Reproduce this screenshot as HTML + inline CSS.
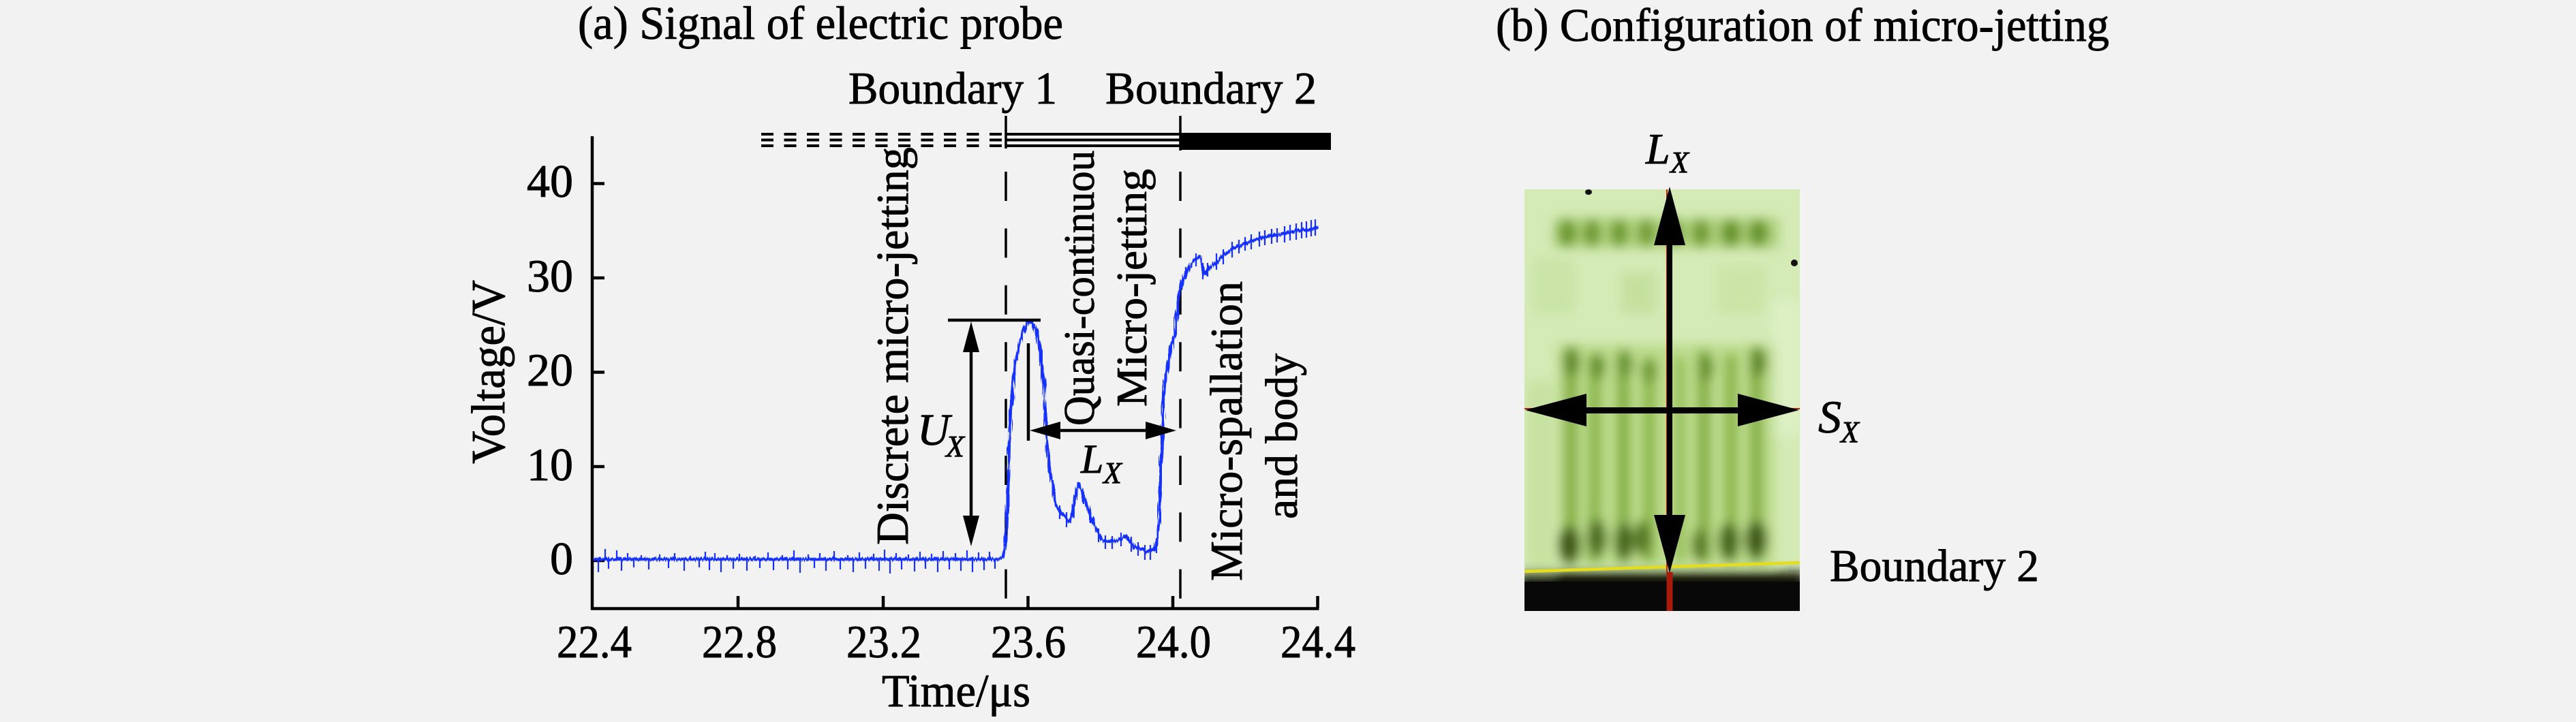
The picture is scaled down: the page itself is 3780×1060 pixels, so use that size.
<!DOCTYPE html>
<html>
<head>
<meta charset="utf-8">
<style>
html,body{margin:0;padding:0;background:#f2f2f2;}
svg{display:block;}
svg text{font-family:"Liberation Serif","DejaVu Serif",serif;}
</style>
</head>
<body>
<svg width="3780" height="1060" viewBox="0 0 3780 1060" xmlns="http://www.w3.org/2000/svg">
<defs>
  <filter id="bl" x="-20%" y="-20%" width="140%" height="140%"><feGaussianBlur stdDeviation="8"/></filter>
  <filter id="jit" filterUnits="userSpaceOnUse" x="850" y="300" width="1110" height="580">
    <feTurbulence type="fractalNoise" baseFrequency="0.55 0.04" numOctaves="1" seed="5" result="n"/>
    <feDisplacementMap in="SourceGraphic" in2="n" scale="9" xChannelSelector="R" yChannelSelector="G"/>
  </filter>
  <clipPath id="imgclip"><rect x="2237" y="278" width="404" height="619"/></clipPath>
</defs>
<rect width="3780" height="1060" fill="#f2f2f2"/>

<g font-family="'Liberation Serif', 'DejaVu Serif', serif" fill="#000" stroke="#000" stroke-width="0.9">
  <!-- Titles -->
  <text x="848" y="57" font-size="69" textLength="712" lengthAdjust="spacingAndGlyphs">(a) Signal of electric probe</text>
  <text x="2195" y="60" font-size="69" textLength="900" lengthAdjust="spacingAndGlyphs">(b) Configuration of micro-jetting</text>

  <!-- Boundary labels -->
  <text x="1245" y="152" font-size="67" textLength="306" lengthAdjust="spacingAndGlyphs">Boundary 1</text>
  <text x="1622" y="152" font-size="67" textLength="310" lengthAdjust="spacingAndGlyphs">Boundary 2</text>

  <!-- Y tick labels -->
  <g font-size="68" text-anchor="end">
    <text x="841" y="843">0</text>
    <text x="841" y="705">10</text>
    <text x="841" y="566">20</text>
    <text x="841" y="428">30</text>
    <text x="841" y="289">40</text>
  </g>
  <!-- X tick labels -->
  <g font-size="68" text-anchor="middle">
    <text x="872" y="965" textLength="110" lengthAdjust="spacingAndGlyphs">22.4</text>
    <text x="1085" y="965" textLength="110" lengthAdjust="spacingAndGlyphs">22.8</text>
    <text x="1297" y="965" textLength="110" lengthAdjust="spacingAndGlyphs">23.2</text>
    <text x="1509" y="965" textLength="110" lengthAdjust="spacingAndGlyphs">23.6</text>
    <text x="1722" y="965" textLength="110" lengthAdjust="spacingAndGlyphs">24.0</text>
    <text x="1934" y="965" textLength="110" lengthAdjust="spacingAndGlyphs">24.4</text>
  </g>
  <!-- Axis titles -->
  <text x="1403" y="1037" font-size="68" text-anchor="middle" textLength="218" lengthAdjust="spacingAndGlyphs">Time/μs</text>
  <text transform="translate(740,546) rotate(-90)" x="0" y="0" font-size="70" text-anchor="middle" textLength="270" lengthAdjust="spacingAndGlyphs">Voltage/V</text>

  <!-- Rotated annotation texts -->
  <text transform="translate(1332,800) rotate(-90)" font-size="67" textLength="584" lengthAdjust="spacingAndGlyphs">Discrete micro-jetting</text>
  <text transform="translate(1605,625) rotate(-90)" font-size="64" textLength="404" lengthAdjust="spacingAndGlyphs">Quasi-continuou</text>
  <text transform="translate(1682,597) rotate(-90)" font-size="64" textLength="349" lengthAdjust="spacingAndGlyphs">Micro-jetting</text>
  <text transform="translate(1822,853) rotate(-90)" font-size="67" textLength="440" lengthAdjust="spacingAndGlyphs">Micro-spallation</text>
  <text transform="translate(1903,762) rotate(-90)" font-size="67" textLength="243" lengthAdjust="spacingAndGlyphs">and body</text>

  <!-- U_X and L_X labels (a) -->
  <text x="1346" y="653" font-size="66" font-style="italic">U</text>
  <text x="1388" y="670" font-size="44" font-style="italic">X</text>
  <text x="1586" y="694" font-size="60" font-style="italic">L</text>
  <text x="1619" y="709" font-size="44" font-style="italic">X</text>

  <!-- Panel b labels -->
  <text x="2415" y="240" font-size="64" font-style="italic">L</text>
  <text x="2451" y="253" font-size="44" font-style="italic">X</text>
  <text x="2668" y="635" font-size="68" font-style="italic">S</text>
  <text x="2701" y="649" font-size="44" font-style="italic">X</text>
  <text x="2685" y="853" font-size="67" textLength="307" lengthAdjust="spacingAndGlyphs">Boundary 2</text>
</g>

<!-- Region bars -->
<g stroke="#000" stroke-width="4" fill="none">
  <line x1="1117" y1="197" x2="1471" y2="197" stroke-dasharray="18 15.5"/>
  <line x1="1117" y1="205.5" x2="1471" y2="205.5" stroke-dasharray="18 15.5"/>
  <line x1="1117" y1="214" x2="1471" y2="214" stroke-dasharray="18 15.5"/>
  <line x1="1476" y1="197" x2="1732" y2="197"/>
  <line x1="1476" y1="205.5" x2="1732" y2="205.5"/>
  <line x1="1476" y1="214" x2="1732" y2="214"/>
</g>
<rect x="1732" y="195" width="221" height="25" fill="#000"/>
<g stroke="#000" stroke-width="3.5">
  <line x1="1476" y1="170" x2="1476" y2="218"/>
  <line x1="1732" y1="170" x2="1732" y2="221"/>
  <line x1="1476" y1="252" x2="1476" y2="880" stroke-dasharray="43 40.4"/>
  <line x1="1732" y1="252" x2="1732" y2="880" stroke-dasharray="43 40.4"/>
</g>

<!-- Axes -->
<g stroke="#000" stroke-width="4.5" fill="none">
  <path d="M869 200 V895 M867 893.5 H1935.5"/>
  <path d="M869 823 H887 M869 685 H887 M869 546.5 H887 M869 408 H887 M869 269.5 H887"/>
  <path d="M1083 875 V893 M1296 875 V893 M1508.5 875 V893 M1721 875 V893 M1933.5 875 V893"/>
</g>

<!-- Signal curve -->
<g filter="url(#jit)">
<polyline fill="none" stroke="#1530ff" stroke-width="4.5" stroke-linejoin="round"
 points="870,821 1465,821 1470,818 1474,805 1477,784 1479,720 1481,650 1484,590 1488,545 1492,522 1497,500 1503,482 1509,472 1515,474 1520,485 1524,502 1528,530 1532,567 1535,632 1538,670 1542,697 1546,722 1550,740 1556,752 1561,757 1566,762 1570,766 1573,757 1576,740 1580,720 1583,710 1587,720 1591,732 1596,745 1602,762 1610,780 1617,792 1625,795 1639,794 1652,788 1658,795 1665,803 1675,806 1683,810 1690,808 1695,805 1699,790 1701,760 1703,700 1705,654 1707,590 1711,550 1716,524 1720,505 1724,489 1728,455 1731,430 1735,411 1742,398 1750,385 1756,380 1761,376 1765,395 1768,402 1773,395 1780,389 1790,380 1805,367 1820,360 1842,352 1860,347 1879,344 1900,340 1920,336 1935,334"/>
</g>
<path fill="none" stroke="#1530ff" stroke-width="2.2" d="
M878 821V840 M888 821V806 M893 821V835 M905 821V808 M912 821V838 M921 821V812 M930 821V833 M941 821V815 M952 821V836 M968 821V814
M981 821V834 M990 821V812 M1004 821V838 M1013 821V816 M1026 821V833 M1035 821V810 M1041 821V837 M1049 821V812 M1058 821V840 M1067 821V815
M1076 821V835 M1085 821V813 M1096 821V838 M1108 821V816 M1115 821V834 M1127 821V811 M1135 821V837 M1148 821V815 M1156 821V836 M1165 821V808
M1174 821V841 M1186 821V814 M1195 821V834 M1203 821V812 M1212 821V838 M1224 821V809 M1233 821V836 M1244 821V815 M1252 821V840 M1261 821V811
M1270 821V835 M1282 821V813 M1290 821V838 M1298 821V807 M1306 821V842 M1315 821V812 M1323 821V836 M1333 821V814 M1342 821V839 M1350 821V810
M1358 821V835 M1367 821V813 M1376 821V840 M1384 821V809 M1393 821V836 M1402 821V812 M1410 821V838 M1419 821V808 M1427 821V840 M1436 821V811
M1444 821V837 M1452 821V810 M1460 821V835
M1545 705V725 M1555 742V762 M1565 752V774 M1590 722V740 M1600 748V768 M1612 776V796 M1622 786V806 M1632 787V806 M1645 782V802
M1660 788V810 M1670 796V816 M1680 800V822 M1688 800V822 M1697 790V812 M1740 392V410 M1755 372V391 M1765 386V410 M1772 386V406
M1785 372V396 M1795 366V388 M1808 355V378 M1818 352V372 M1827 348V368 M1836 344V366 M1848 340V362 M1856 338V360 M1866 336V358
M1874 335V356 M1885 332V356 M1893 330V353 M1902 328V352 M1910 326V350 M1917 325V349 M1924 323V347 M1930 322V346"/>

<!-- Annotations (a) -->
<g stroke="#000" stroke-width="4.5" fill="none">
  <path d="M1391 470 H1527"/>
  <path d="M1425 512 V762"/>
  <path d="M1509 504 V647"/>
  <path d="M1550 632 H1688"/>
</g>
<g fill="#000">
  <polygon points="1425,472 1413,517 1437,517"/>
  <polygon points="1425,802 1413,757 1437,757"/>
  <polygon points="1511,632 1556,619 1556,645"/>
  <polygon points="1726,632 1681,619 1681,645"/>
</g>

<!-- Panel (b) image -->
<g clip-path="url(#imgclip)">
  <rect x="2237" y="278" width="404" height="619" fill="#d4ebb6"/>
  <g filter="url(#bl)">
    <!-- mottling -->
    <rect x="2250" y="380" width="60" height="80" fill="#c6e2a2" opacity="0.8"/>
    <rect x="2380" y="400" width="50" height="60" fill="#c0dd98" opacity="0.8"/>
    <rect x="2520" y="390" width="70" height="70" fill="#c8e3a4" opacity="0.8"/>
    <rect x="2240" y="560" width="40" height="280" fill="#c4e09c" opacity="0.8"/>
    <rect x="2600" y="440" width="40" height="200" fill="#dff0c8" opacity="0.8"/>
    <!-- top row -->
    <rect x="2280" y="320" width="330" height="44" fill="#a4c96a" opacity="0.8"/>
    <ellipse cx="2300" cy="342" rx="13" ry="20" fill="#6a962e"/>
    <ellipse cx="2336" cy="342" rx="12" ry="20" fill="#6a962e"/>
    <ellipse cx="2376" cy="342" rx="12" ry="20" fill="#6a962e"/>
    <ellipse cx="2416" cy="342" rx="12" ry="20" fill="#6f9a32"/>
    <ellipse cx="2456" cy="342" rx="12" ry="20" fill="#6a962e"/>
    <ellipse cx="2496" cy="342" rx="12" ry="20" fill="#6a962e"/>
    <ellipse cx="2540" cy="342" rx="14" ry="20" fill="#66922c"/>
    <ellipse cx="2580" cy="342" rx="14" ry="20" fill="#66922c"/>
    <!-- streak band background -->
    <rect x="2285" y="505" width="320" height="325" fill="#b0d478" opacity="0.65"/>
    <!-- streaks -->
    <rect x="2296" y="510" width="18" height="315" fill="#80ac40"/>
    <rect x="2331" y="520" width="18" height="305" fill="#88b448"/>
    <rect x="2373" y="515" width="18" height="310" fill="#80ac40"/>
    <rect x="2411" y="525" width="18" height="300" fill="#8ab64a"/>
    <rect x="2459" y="525" width="12" height="300" fill="#8ab64a"/>
    <rect x="2491" y="515" width="18" height="310" fill="#80ac40"/>
    <rect x="2531" y="520" width="18" height="305" fill="#88b448"/>
    <rect x="2568" y="510" width="18" height="315" fill="#80ac40"/>
    <!-- row 2 -->
    <ellipse cx="2306" cy="532" rx="12" ry="22" fill="#5c8626"/>
    <ellipse cx="2344" cy="538" rx="11" ry="20" fill="#648e2a"/>
    <ellipse cx="2384" cy="535" rx="11" ry="20" fill="#648e2a"/>
    <ellipse cx="2420" cy="545" rx="11" ry="18" fill="#6a942e"/>
    <ellipse cx="2503" cy="540" rx="11" ry="20" fill="#648e2a"/>
    <ellipse cx="2580" cy="532" rx="12" ry="22" fill="#5c8626"/>
    <!-- row 3 -->
    <ellipse cx="2303" cy="800" rx="16" ry="28" fill="#3c5a14"/>
    <ellipse cx="2343" cy="790" rx="14" ry="28" fill="#4a6c1c"/>
    <ellipse cx="2383" cy="795" rx="14" ry="28" fill="#446618"/>
    <ellipse cx="2410" cy="790" rx="12" ry="26" fill="#527420"/>
    <ellipse cx="2495" cy="800" rx="12" ry="24" fill="#567822"/>
    <ellipse cx="2537" cy="795" rx="15" ry="28" fill="#446618"/>
    <ellipse cx="2577" cy="792" rx="16" ry="28" fill="#3c5a14"/>
    <!-- dark bottom -->
    <rect x="2230" y="840" width="420" height="70" fill="#0a0c06"/>
  </g>
  <rect x="2237" y="854" width="404" height="50" fill="#080808"/>
  <line x1="2237" y1="839" x2="2641" y2="826" stroke="#e6dc1e" stroke-width="4.5"/>
  <line x1="2237" y1="600" x2="2641" y2="600" stroke="#c02010" stroke-width="2"/>
  <line x1="2446" y1="274" x2="2446" y2="841" stroke="#c02010" stroke-width="2"/>
  <line x1="2450" y1="840" x2="2450" y2="897" stroke="#a81a0a" stroke-width="9"/>
</g>
<!-- specks -->
<ellipse cx="2331" cy="282" rx="5" ry="4" fill="#111"/>
<ellipse cx="2633" cy="386" rx="5" ry="5" fill="#111"/>
<!-- arrows (b) -->
<g fill="#000">
  <rect x="2446" y="340" width="8" height="430"/>
  <polygon points="2450,274 2427,360 2473,360"/>
  <polygon points="2450,841 2427,756 2473,756"/>
  <rect x="2310" y="598" width="260" height="9"/>
  <polygon points="2238,602 2328,578 2328,626"/>
  <polygon points="2640,602 2550,578 2550,626"/>
</g>
</svg>
</body>
</html>
